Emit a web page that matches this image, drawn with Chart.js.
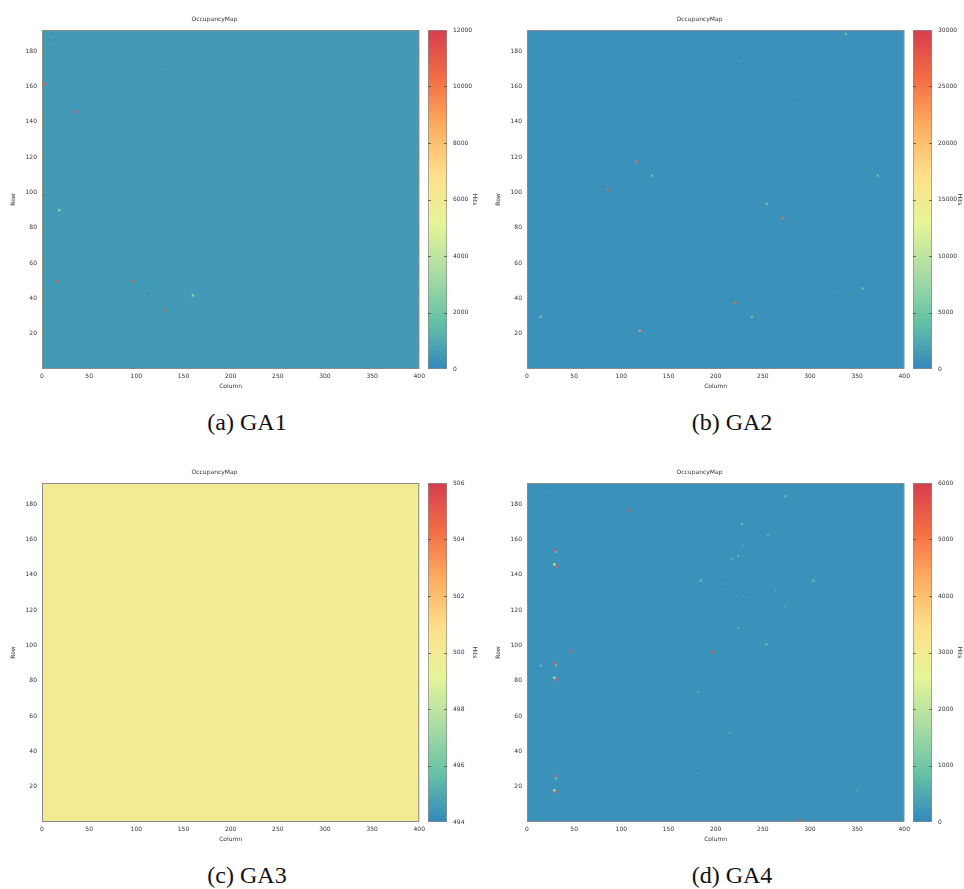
<!DOCTYPE html>
<html lang="en">
<head>
  <meta charset="UTF-8" />
  <title>OccupancyMap GA1 - GA4</title>
  <script src="https://cdn.jsdelivr.net/npm/chart.js"></script>
  <style>
    body {
      margin: 0;
      background: #fff;
    }
    #page {
      position: relative;
      width: 964px;
      height: 889px;
    }
    canvas {
      position: absolute;
    }
    .caption {
      position: absolute;
      width: 300px;
      line-height: 26px;
      text-align: center;
      font-family: "Liberation Serif", serif;
      font-size: 24px;
      color: #111;
    }
  </style>
</head>
<body>
<div id="page"></div>

<script>
  // ------------------ Data ------------------
  const captions = ['(a) GA1', '(b) GA2', '(c) GA3', '(d) GA4'];
  const cbMin = [0, 0, 494, 0];
  const cbMax = [12000, 30000, 506, 6000];
  const cbStep = [2000, 5000, 2, 1000];
  // hits of the quiet pixels that fill each map
  const baseHits = [530, 660, 500, 130];

  // noisy pixels: column, row, hits
  const ga1Col  = [14, 128, 2.2, 35.7, 1.5, 18.4, 15.6, 95.5, 112, 160, 129.4];
  const ga1Row  = [186.5, 170.7, 161.4, 145.6, 98.7, 89.9, 49.6, 49.6, 42.7, 41.7, 33.6];
  const ga1Hits = [80, 80, 11000, 11200, 80, 3500, 11300, 11300, 80, 3000, 11200];

  const ga2Col  = [338, 225.6, 286.8, 115.6, 132.3, 372, 85.6, 254.3, 270.9, 48, 221, 356, 14.5, 238.4, 119.5, 271, 325];
  const ga2Row  = [189.7, 174.4, 150.6, 117.4, 109.5, 109.5, 101.6, 93.6, 85.6, 78.7, 37.5, 45.5, 29.5, 29.5, 21.6, 22.3, 44];
  const ga2Hits = [5000, 1500, 1500, 25000, 5000, 5000, 26000, 5000, 26000, 1500, 26000, 5000, 5000, 5000, 23000, 200, 1500];

  const ga3Col  = [];
  const ga3Row  = [];
  const ga3Hits = [];

  const ga4Col  = [107.2, 274, 227.7, 255.7, 185.7, 228.8, 28.6, 30.4, 223.8, 217, 29, 31.8, 184.3, 303.8, 262.8, 210.5, 274, 230.2,
                   223.8, 253.9, 45.6, 197.3, 14.5, 28.6, 30.7, 29, 31.5, 181.4, 200.5, 215, 61.2, 197, 181.4, 28.6, 30.7, 29, 31.5,
                   265.6, 350.5, 289, 347, 22.6];
  const ga4Row  = [176.7, 184.6, 168.8, 162.7, 167.8, 156.5, 153.9, 152.9, 150.7, 148.8, 145.9, 144.8, 136.7, 136.7, 131.6, 134.6, 122, 127.6,
                   109.7, 100.6, 96.7, 96.5, 88.5, 89.7, 88.7, 81.7, 80.6, 73.6, 66.8, 50.6, 33.8, 33.8, 27.9, 25.9, 24.7, 17.9, 17,
                   16.8, 17.9, 0.9, 177.8, 187];
  const ga4Hits = [5500, 900, 900, 700, 400, 400, 5500, 900, 700, 700, 2200, 5500, 900, 900, 400, 400, 400, 400,
                   700, 900, 5500, 5500, 900, 5500, 900, 2200, 5500, 600, 400, 400, 300, 300, 400, 5500, 900, 2200, 5500,
                   60, 400, 5500, 60, 300];

  const panelCols = [ga1Col, ga2Col, ga3Col, ga4Col];
  const panelRows = [ga1Row, ga2Row, ga3Row, ga4Row];
  const panelHits = [ga1Hits, ga2Hits, ga3Hits, ga4Hits];

  // ------------------ Palette ------------------
  const palette = ['#3288bd', '#66c2a5', '#abdda4', '#e6f598', '#fee08b', '#fdae61', '#f46d43', '#d53e4f'];
  const paletteRgb = palette.map(h => [1, 3, 5].map(i => parseInt(h.substr(i, 2), 16)));

  function hitColor(v, lo, hi) {
    let t = (v - lo) / (hi - lo);
    t = Math.max(0, Math.min(1, t)) * (palette.length - 1);
    const i = Math.min(Math.floor(t), palette.length - 2);
    const f = t - i;
    const c = paletteRgb[i].map((a, k) => Math.round(a + (paletteRgb[i + 1][k] - a) * f));
    return `rgb(${c[0]},${c[1]},${c[2]})`;
  }

  // ------------------ Layout ------------------
  const offX = [0, 485, 0, 485];
  const offY = [0, 0, 453, 453];
  const FONT = { family: 'DejaVu Sans', size: 6, weight: 'normal' };
  const TXT = '#333';

  // fills the plot with the quiet-pixel colour and draws the frame
  const mapBackground = {
    id: 'mapBackground',
    beforeDatasetsDraw(chart, args, opts) {
      const a = chart.chartArea, ctx = chart.ctx;
      ctx.save();
      ctx.fillStyle = hitColor(opts.hits, opts.min, opts.max);
      ctx.fillRect(a.left, a.top, a.right - a.left, a.bottom - a.top);
      ctx.restore();
    },
    afterDatasetsDraw(chart) {
      const a = chart.chartArea, ctx = chart.ctx;
      ctx.save();
      ctx.strokeStyle = '#8a8a8a';
      ctx.lineWidth = 1;
      ctx.strokeRect(a.left + 0.5, a.top + 0.5, a.right - a.left - 1, a.bottom - a.top - 1);
      ctx.restore();
    }
  };

  // small tick marks on both inner edges of the colour bar
  const barTicks = {
    id: 'barTicks',
    afterDatasetsDraw(chart) {
      const a = chart.chartArea, ctx = chart.ctx, y = chart.scales.y;
      ctx.save();
      ctx.strokeStyle = 'rgba(60,60,60,0.7)';
      ctx.lineWidth = 1;
      y.ticks.forEach(t => {
        const py = Math.round(y.getPixelForValue(t.value)) + 0.5;
        if (py <= a.top + 1 || py >= a.bottom - 1) return;
        ctx.beginPath();
        ctx.moveTo(a.left, py); ctx.lineTo(a.left + 3, py);
        ctx.moveTo(a.right - 3, py); ctx.lineTo(a.right, py);
        ctx.stroke();
      });
      ctx.restore();
    }
  };

  const page = document.getElementById('page');

  function addCanvas(left, top, w, h) {
    const c = document.createElement('canvas');
    c.width = w; c.height = h;
    c.style.left = left + 'px';
    c.style.top = top + 'px';
    c.style.width = w + 'px';
    c.style.height = h + 'px';
    page.appendChild(c);
    return c;
  }

  function drawMap(p) {
    const lo = cbMin[p], hi = cbMax[p];
    const points = panelCols[p].map((c, i) => ({ x: c, y: panelRows[p][i], v: panelHits[p][i] }));
    new Chart(addCanvas(offX[p], offY[p], 429, 395), {
      type: 'scatter',
      data: {
        datasets: [{
          data: points,
          pointStyle: 'rect',
          pointRadius: 1.5,
          borderWidth: 0,
          backgroundColor: ctx => hitColor(ctx.raw ? ctx.raw.v : lo, lo, hi)
        }]
      },
      options: {
        responsive: false,
        animation: false,
        layout: { padding: { right: 0 } },
        plugins: {
          legend: { display: false },
          tooltip: { enabled: false },
          title: {
            display: true, text: 'OccupancyMap', color: TXT, font: FONT,
            padding: { top: 15.4, bottom: 7.4 }
          },
          mapBackground: { hits: baseHits[p], min: lo, max: hi }
        },
        scales: {
          x: {
            type: 'linear', min: 0, max: 400,
            ticks: { stepSize: 50, color: TXT, font: FONT, padding: 4, maxRotation: 0 },
            grid: { display: false, drawTicks: false },
            border: { display: false },
            title: { display: true, text: 'Column', color: TXT, font: FONT, padding: { top: 0, bottom: 5 } },
            afterFit: s => { s.height = 26; }
          },
          y: {
            type: 'linear', min: 0, max: 192,
            ticks: { stepSize: 20, color: TXT, font: FONT, padding: 5 },
            afterBuildTicks: s => { s.ticks = s.ticks.filter(t => t.value > 0 && t.value % 20 === 0); },
            grid: { display: false, drawTicks: false },
            border: { display: false },
            title: { display: true, text: 'Row', color: TXT, font: FONT, padding: { top: 10, bottom: 0 } },
            afterFit: s => { s.width = 42; }
          }
        }
      },
      plugins: [mapBackground]
    });
  }

  function drawColorBar(p) {
    const lo = cbMin[p], hi = cbMax[p];
    new Chart(addCanvas(offX[p] + 425, offY[p], 54, 395), {
      type: 'bar',
      data: {
        labels: ['Hits'],
        datasets: [{
          data: [[lo, hi]],
          barPercentage: 1,
          categoryPercentage: 1,
          borderColor: '#8a8a8a',
          borderWidth: 1,
          borderSkipped: false,
          backgroundColor: ctx => {
            const a = ctx.chart.chartArea;
            if (!a) return palette[0];
            const g = ctx.chart.ctx.createLinearGradient(0, a.bottom, 0, a.top);
            palette.forEach((c, i) => g.addColorStop(i / (palette.length - 1), c));
            return g;
          }
        }]
      },
      options: {
        responsive: false,
        animation: false,
        layout: { padding: { top: 30, bottom: 26, left: 3 } },
        plugins: { legend: { display: false }, tooltip: { enabled: false } },
        scales: {
          x: { display: false },
          y: {
            position: 'right', min: lo, max: hi,
            ticks: { stepSize: cbStep[p], color: TXT, font: FONT, padding: 6, callback: v => String(v) },
            grid: { display: false, drawTicks: false },
            border: { display: false },
            title: { display: true, text: 'Hits', color: TXT, font: FONT, padding: { top: 0.5, bottom: 0 } },
            afterFit: s => { s.width = 32; }
          }
        }
      },
      plugins: [barTicks]
    });
  }

  for (let p = 0; p < 4; p++) {
    drawMap(p);
    drawColorBar(p);
    const cap = document.createElement('div');
    cap.className = 'caption';
    cap.textContent = captions[p];
    cap.style.left = (offX[p] + 247 - 150) + 'px';
    cap.style.top = (offY[p] + 422 - 13) + 'px';
    page.appendChild(cap);
  }
</script>
</body>
</html>
